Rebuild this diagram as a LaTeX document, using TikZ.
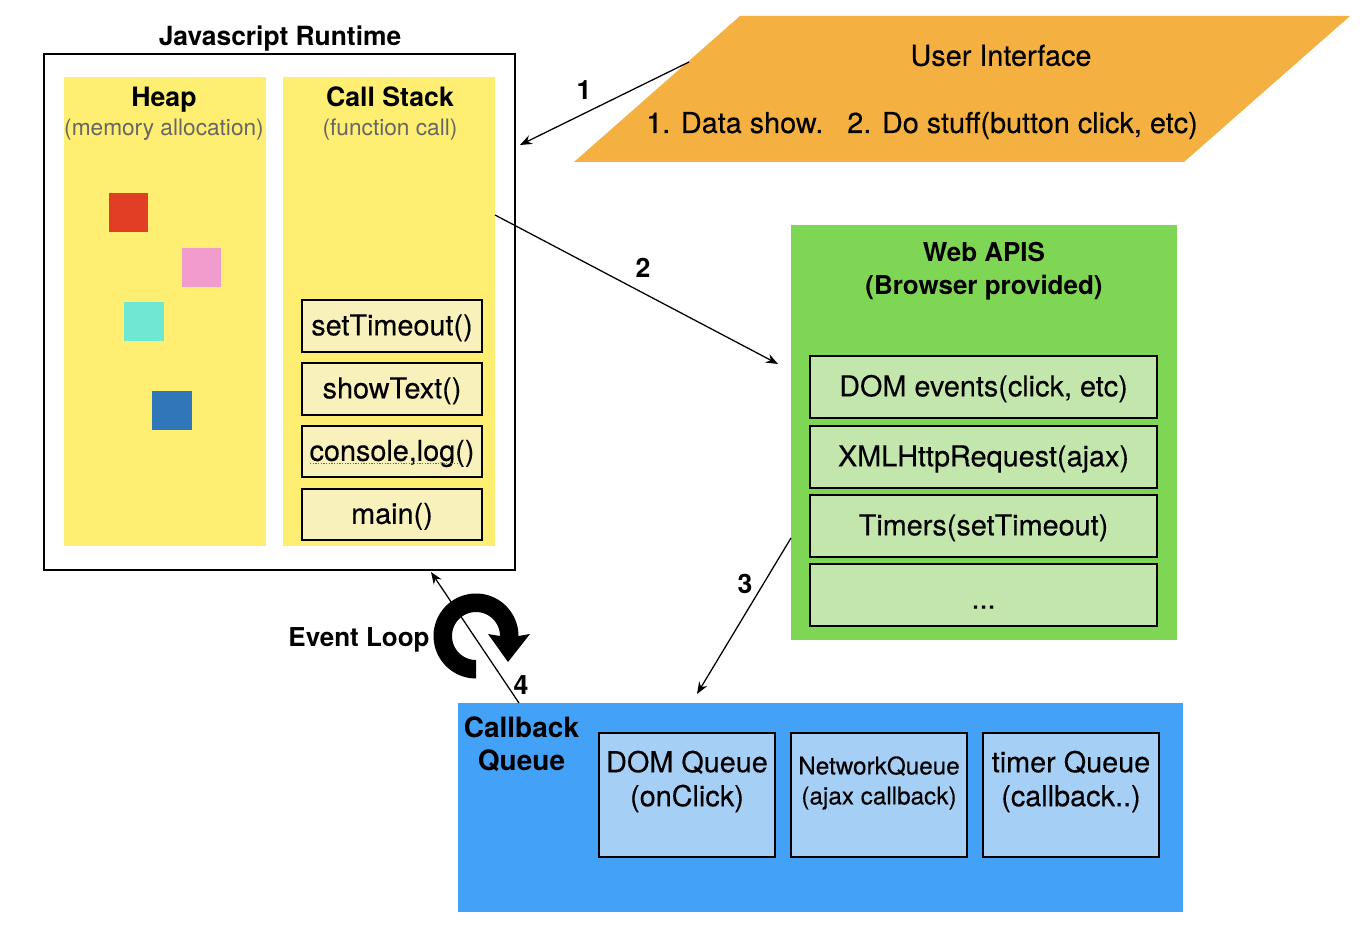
\documentclass[tikz,border=0pt]{standalone}
\usepackage{fontspec}
\setmainfont{TeX Gyre Heros}
\newfontfamily\medfont[FakeBold=0.3]{TeX Gyre Heros}
\usetikzlibrary{arrows.meta}
\definecolor{cyellow}{HTML}{FEEE72}
\definecolor{cpale}{HTML}{F8F1BC}
\definecolor{corange}{HTML}{F4B040}
\definecolor{cgreen}{HTML}{7FD655}
\definecolor{clgreen}{HTML}{C2E6AC}
\definecolor{cblue}{HTML}{43A1F8}
\definecolor{clblue}{HTML}{A5CFF5}
\definecolor{cred}{HTML}{E23D25}
\definecolor{cpink}{HTML}{F29CCD}
\definecolor{cteal}{HTML}{6EE7D3}
\definecolor{cdblue}{HTML}{2F77B9}
\definecolor{cgrey}{HTML}{666666}
\definecolor{cspell}{HTML}{F03020}
\newcommand{\bx}[7]{\node[#6,minimum width={(#4-#2)*0.75pt},minimum height={(#5-#3)*0.75pt}] (#1) at ({(#2+#4)/2},{(#3+#5)/2}) {#7};}
\tikzset{
  x=0.75pt,y=-0.75pt,
  block/.style={rectangle,inner sep=0pt,outer sep=0pt,align=center},
  framed/.style={block,draw=black,line width=1.7pt},
  body/.style={font=\medfont\fontsize{21.6}{25.5}\selectfont,align=center,inner sep=0pt},
  boxtext/.style={body,inner sep=0pt,text height=16.5pt,text depth=2.5pt},
  title/.style={font=\fontsize{20}{25}\selectfont\bfseries,align=center,inner sep=0pt},
  sub/.style={font=\fontsize{17}{21}\selectfont,text=cgrey,inner sep=0pt},
  num/.style={font=\fontsize{20}{23}\selectfont\bfseries,inner sep=0pt},
  link/.style={draw=black,line width=0.95pt,-{Stealth[length=9pt,width=7pt]}}
}
\begin{document}
\begin{tikzpicture}
\useasboundingbox (0,0) rectangle (1360,930);
\fill[white] (0,0) rectangle (1360,930);
% user interface
\fill[corange] (574,162) -- (740,16) -- (1350,16) -- (1184,162) -- cycle;
\coordinate (uiedge) at (689,62);
\node[body] (uititle) at (1001,55.5) {User Interface};
\node[body,anchor=base west] (uitext) at (646,133) {1. Data show.\ \ \ 2. Do stuff(button click, etc)};
% runtime
\node[title,font=\fontsize{19.8}{23}\selectfont\bfseries] (rttitle) at (280,38.5) {Javascript Runtime};
\bx{runtime}{44}{54}{515}{570}{block,draw=black,line width=2.2pt,fill=white}{}
\bx{heap}{64}{77}{266}{546}{block,fill=cyellow}{}
\bx{stack}{283}{77}{495}{546}{block,fill=cyellow}{}
\node[title,anchor=base] (heapt) at (164,107) {Heap};
\node[sub,anchor=base] (heaps) at (164,136) {(memory allocation)};
\node[title,anchor=base] (stackt) at (390,107) {Call Stack};
\node[sub,anchor=base] (stacks) at (390,136) {(function call)};
\bx{sqa}{109}{193}{148}{232}{block,fill=cred}{}
\bx{sqb}{182}{248}{221}{287}{block,fill=cpink}{}
\bx{sqc}{124}{302}{164}{341}{block,fill=cteal}{}
\bx{sqd}{152}{391}{192}{430}{block,fill=cdblue}{}
\bx{fa}{302}{300}{482}{352}{framed,fill=cpale,boxtext}{setTimeout()}
\bx{fb}{302}{363}{482}{415}{framed,fill=cpale,boxtext}{showText()}
\bx{fc}{302}{426}{482}{477}{framed,fill=cpale,boxtext}{console,log()}
\bx{fd}{302}{489}{482}{540}{framed,fill=cpale,boxtext}{main()}
\coordinate (spella) at (310,463.5);
\coordinate (spellb) at (459,463.5);
\draw[cspell,line width=0.9pt,dash pattern=on 1pt off 1pt] (spella) -- (spellb);
% web apis
\bx{web}{791}{225}{1177}{640}{block,fill=cgreen}{}
\node[title,font=\fontsize{19.5}{25}\selectfont\bfseries] (webt) at (984,271) {Web APIS\\(Browser provided)};
\bx{wa}{810}{356}{1157}{418}{framed,fill=clgreen,boxtext}{DOM events(click, etc)}
\bx{wb}{810}{426}{1157}{488}{framed,fill=clgreen,boxtext}{XMLHttpRequest(ajax)}
\bx{wc}{810}{495}{1157}{557}{framed,fill=clgreen,boxtext}{Timers(setTimeout)}
\bx{wd}{810}{564}{1157}{626}{framed,fill=clgreen,boxtext,text height=20.5pt,text depth=0pt}{...}
% callback queue
\bx{queue}{458}{703}{1183}{912}{block,fill=cblue}{}
\node[title,font=\fontsize{21}{25}\selectfont\bfseries] (qt) at (521.5,744) {Callback\\Queue};
\bx{qa}{599}{733}{775}{857}{framed,fill=clblue}{}
\bx{qb}{791}{733}{967}{857}{framed,fill=clblue}{}
\bx{qc}{983}{733}{1159}{857}{framed,fill=clblue}{}
\node[body] (qat) at (687,781.5) {DOM Queue\\(onClick)};
\node[body,font=\medfont\fontsize{18.2}{22.5}\selectfont] (qbt) at (879,783) {NetworkQueue\\(ajax callback)};
\node[body] (qct) at (1071,781.5) {timer Queue\\(callback..)};
% event loop
\node[title,font=\fontsize{19.5}{25}\selectfont\bfseries] (loopt) at (359,640) {Event Loop};
\fill[black] plot[domain=90:360,samples=60] ({476+42.5*cos(\x)},{636+42.5*sin(\x)})
  -- (530,634) -- (508,662) -- (488,634)
  -- plot[domain=360:90,samples=60] ({476+24*cos(\x)},{636+24*sin(\x)}) -- cycle;
% connectors
\coordinate (endone) at (520,145);
\coordinate (starttwo) at (stack.east |- 0,215);
\coordinate (endtwo) at (778,364);
\coordinate (startthree) at (web.west |- 0,538);
\coordinate (endthree) at (697,694);
\coordinate (startfour) at (queue.north -| 519,0);
\coordinate (endfour) at (431,572);
\draw[link] (uiedge) -- (endone);
\draw[link] (starttwo) -- (endtwo);
\draw[link] (startthree) -- (endthree);
\draw[link] (startfour) -- (endfour);
\node[num] (none) at (584,90) {1};
\node[num] (ntwo) at (643,268) {2};
\node[num] (nthree) at (745,584) {3};
\node[num] (nfour) at (521,685) {4};
\end{tikzpicture}
\end{document}
